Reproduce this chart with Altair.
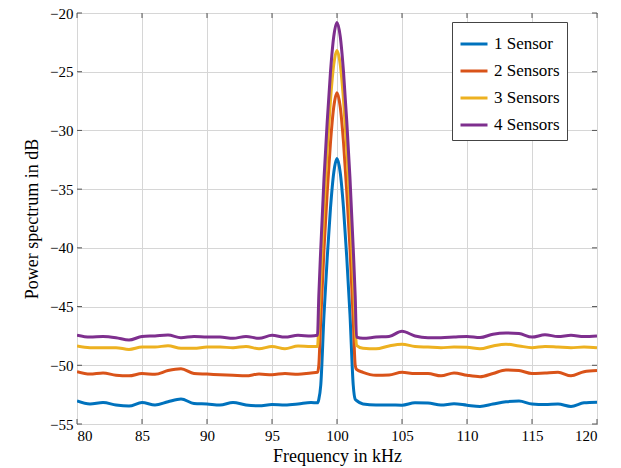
import altair as alt
import pandas as pd

freq = [80, 81, 82, 83, 84, 85, 86, 87, 88, 89, 90, 91, 92, 93, 94, 95, 96, 97, 98, 98.5,
        98.6, 98.75, 99.0, 99.25, 99.5, 99.75, 100.0, 100.25, 100.5, 100.75, 101.0, 101.25, 101.4,
        101.5, 102, 103, 104, 105, 106, 107, 108, 109, 110, 111, 112, 113, 114, 115, 116, 117, 118, 119, 120]

s1 = [-53.04, -53.3, -53.17, -53.38, -53.47, -53.17, -53.38, -53.1, -52.87, -53.25,
      -53.3, -53.38, -53.17, -53.38, -53.45, -53.35, -53.38, -53.3, -53.17, -53.2,
      -52.9, -51.7, -45.7, -40.8, -36.6, -33.6, -32.4, -33.6, -36.6, -40.8, -45.7, -51.7, -52.9,
      -53.0, -53.3, -53.38, -53.38, -53.4, -53.2, -53.22, -53.38, -53.28, -53.4, -53.5,
      -53.3, -53.1, -53.05, -53.3, -53.35, -53.3, -53.5, -53.2, -53.15]

s2 = [-50.54, -50.75, -50.65, -50.85, -50.9, -50.7, -50.77, -50.45, -50.3, -50.7,
      -50.75, -50.8, -50.85, -50.9, -50.75, -50.8, -50.7, -50.77, -50.65, -50.6,
      -50.0, -46.1, -40.1, -35.2, -31.0, -28.0, -26.8, -28.0, -31.0, -35.2, -40.1, -46.1, -50.0,
      -50.35, -50.6, -50.85, -50.83, -50.6, -50.7, -50.7, -50.9, -50.65, -50.85, -50.97,
      -50.7, -50.4, -50.45, -50.7, -50.65, -50.6, -50.9, -50.55, -50.45]

s3 = [-48.36, -48.5, -48.5, -48.5, -48.65, -48.45, -48.45, -48.33, -48.55, -48.55,
      -48.45, -48.45, -48.5, -48.4, -48.6, -48.4, -48.6, -48.36, -48.4, -48.4,
      -46.5, -42.5, -36.5, -31.6, -27.4, -24.4, -23.2, -24.4, -27.4, -31.6, -36.5, -42.5, -46.5,
      -48.3, -48.55, -48.6, -48.35, -48.2, -48.4, -48.45, -48.5, -48.45, -48.47, -48.6,
      -48.35, -48.2, -48.35, -48.5, -48.4, -48.45, -48.5, -48.45, -48.5]

s4 = [-47.43, -47.6, -47.55, -47.65, -47.85, -47.55, -47.5, -47.43, -47.65, -47.55,
      -47.6, -47.6, -47.7, -47.55, -47.7, -47.45, -47.6, -47.45, -47.5, -47.45,
      -44.1, -40.1, -34.1, -29.2, -25.0, -22.0, -20.8, -22.0, -25.0, -29.2, -34.1, -40.1, -44.1,
      -47.6, -47.7, -47.6, -47.55, -47.1, -47.5, -47.65, -47.65, -47.6, -47.55, -47.64,
      -47.35, -47.25, -47.3, -47.6, -47.4, -47.55, -47.45, -47.55, -47.5]

series_names = ["1 Sensor", "2 Sensors", "3 Sensors", "4 Sensors"]
series_colors = ["#0072BD", "#D95319", "#EDB120", "#7E2F8E"]
x_ticks = [80, 85, 90, 95, 100, 105, 110, 115, 120]
y_ticks = [-55, -50, -45, -40, -35, -30, -25, -20]

rows = []
for name, vals in zip(series_names, [s1, s2, s3, s4]):
    for f, v in zip(freq, vals):
        rows.append({"freq": f, "power": v, "series": name, "order": series_names.index(name)})
df = pd.DataFrame(rows)

W, H = 520, 411
FONT = "Liberation Serif"

xscale = alt.Scale(domain=[80, 120], nice=False, zero=False)
yscale = alt.Scale(domain=[-55, -20], nice=False, zero=False)
axis_style = dict(labelFont=FONT, titleFont=FONT, labelFontSize=15, titleFontSize=18,
                  labelColor="black", titleColor="black", titleFontWeight="normal",
                  domain=False, ticks=False, grid=True, gridColor="#d6d6d6", gridWidth=1,
                  labelPadding=4, format="d")
xaxis = alt.Axis(values=x_ticks, title="Frequency in kHz", titlePadding=4, **axis_style)
yaxis = alt.Axis(values=y_ticks, title="Power spectrum in dB", titlePadding=8, **axis_style)

lines = alt.Chart(df).mark_line(strokeWidth=3, interpolate="monotone", clip=True).encode(
    x=alt.X("freq:Q", scale=xscale, axis=xaxis),
    y=alt.Y("power:Q", scale=yscale, axis=yaxis),
    color=alt.Color("series:N",
                    scale=alt.Scale(domain=series_names, range=series_colors),
                    legend=alt.Legend(title=None, orient="none", legendX=375, legendY=9,
                                      symbolType="stroke", symbolSize=729, symbolStrokeWidth=3,
                                      labelFontSize=17, labelFont=FONT, labelColor="black",
                                      strokeColor="#444", fillColor="white", padding=7,
                                      rowPadding=4, labelOffset=5)),
    order=alt.Order("order:Q"),
    detail="series:N",
)

xt = pd.DataFrame({"v": x_ticks})
yt = pd.DataFrame({"v": y_ticks})
tick_color = "#555555"
xb = alt.Chart(xt).mark_rule(color=tick_color, strokeWidth=1).encode(
    x=alt.X("v:Q", scale=xscale, axis=xaxis), y=alt.value(H), y2=alt.value(H - 5))
xtp = alt.Chart(xt).mark_rule(color=tick_color, strokeWidth=1).encode(
    x=alt.X("v:Q", scale=xscale, axis=xaxis), y=alt.value(0), y2=alt.value(5))
yl = alt.Chart(yt).mark_rule(color=tick_color, strokeWidth=1).encode(
    y=alt.Y("v:Q", scale=yscale, axis=yaxis), x=alt.value(0), x2=alt.value(5))
yr = alt.Chart(yt).mark_rule(color=tick_color, strokeWidth=1).encode(
    y=alt.Y("v:Q", scale=yscale, axis=yaxis), x=alt.value(W), x2=alt.value(W - 5))

chart = alt.layer(lines, xb, xtp, yl, yr).properties(
    width=W, height=H,
    autosize=alt.AutoSizeParams(type="none"),
    padding={"left": 77, "top": 13, "right": 24, "bottom": 44},
).configure(
    font=FONT,
    style={"guide-label": {"font": FONT, "fontSize": 15},
           "guide-title": {"font": FONT, "fontSize": 18, "fontWeight": "normal"}},
).configure_view(
    stroke="black", strokeWidth=1
)

chart.save("out.html", embed_options={"renderer": "svg", "actions": False})
